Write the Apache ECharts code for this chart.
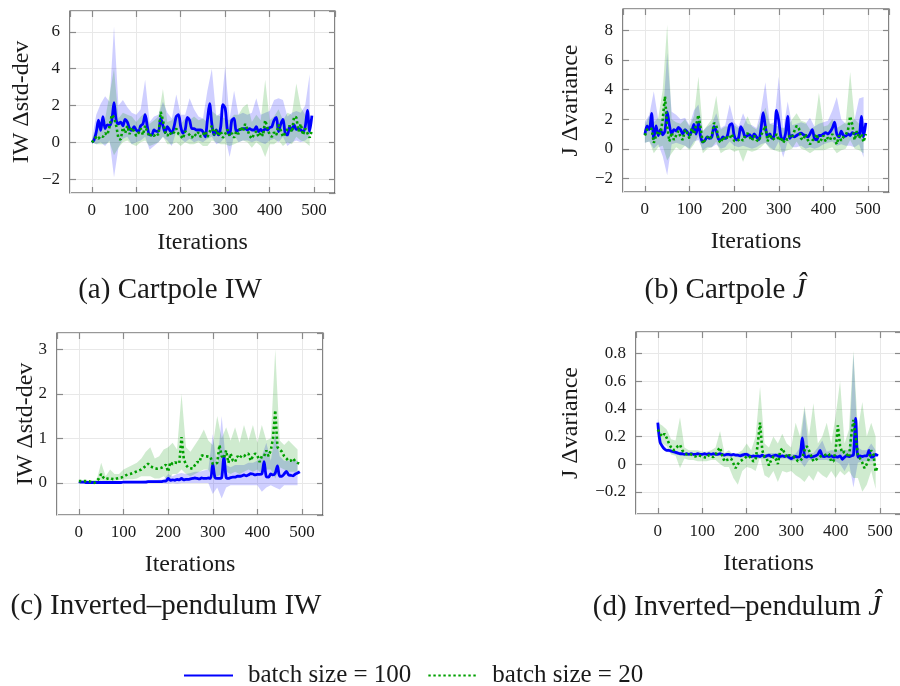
<!DOCTYPE html>
<html>
<head>
<meta charset="utf-8">
<script src="https://cdn.jsdelivr.net/npm/echarts@6/dist/echarts.min.js"></script>
<style>
  html, body { margin: 0; padding: 0; background: #fff; }
  #chart { width: 900px; height: 686px; }
</style>
</head>
<body>
<div id="chart"></div>
<script>
// iterations: means every 5, bands every 10
const iterMean = [];
for (let i = 0; i < 500; i += 5) iterMean.push(i);
const iterBand = [];
for (let i = 0; i < 500; i += 10) iterBand.push(i);

// (a) Cartpole IW
const cpIwBlue = [0.0,0.12,0.55,1.2,0.65,1.4,0.75,0.95,0.9,1.2,
  2.15,1.2,1.0,1.1,0.9,1.25,1.1,0.75,0.65,0.85,
  0.67,0.58,0.9,1.0,1.5,0.85,0.4,0.4,0.67,0.6,
  0.6,1.3,0.9,0.53,0.85,0.67,0.5,0.85,1.4,1.5,
  0.85,0.5,0.67,1.35,1.2,0.75,0.75,0.67,0.67,0.67,
  0.58,0.3,1.2,2.1,1.0,0.4,0.67,0.4,0.85,2.05,
  1.85,0.67,0.4,1.2,1.3,0.58,0.67,0.7,0.75,0.75,
  0.67,0.75,0.67,0.67,0.85,0.58,0.7,0.58,0.75,0.67,
  0.8,0.85,1.2,1.35,0.58,1.0,1.25,0.5,0.4,0.85,
  0.67,0.95,0.7,0.75,0.67,0.58,0.85,1.73,0.6,1.45];
const cpIwGreen = [0.0,0.1,0.3,0.2,0.35,0.3,0.5,0.4,0.85,1.5,
  1.35,0.9,0.2,0.15,0.8,0.5,0.9,0.45,0.8,0.6,
  0.35,0.5,0.75,0.4,0.9,0.55,0.3,0.45,0.35,0.5,
  0.4,1.65,1.2,0.55,0.35,0.55,0.4,0.55,0.75,0.45,
  0.35,0.2,0.6,0.5,0.4,0.25,0.45,0.35,0.55,0.3,
  0.4,0.6,0.3,0.55,0.9,0.4,0.7,0.35,0.6,0.25,
  0.45,0.7,0.35,0.5,0.25,0.6,0.45,0.85,0.6,1.0,
  0.7,0.35,0.2,0.45,0.6,0.3,0.55,0.35,1.2,0.8,
  0.4,0.3,0.55,0.4,0.95,0.65,0.3,0.5,0.7,0.9,
  0.55,1.4,1.35,0.6,1.0,0.4,0.75,0.5,0.25,0.65];
const cpIwBlueLo = [0.0,-0.1,0.0,-0.2,0.1,-1.9,-0.3,0.2,0.3,-0.1,
  0.0,0.1,0.3,-0.4,-0.2,0.0,0.3,0.1,-0.2,0.6,
  0.2,0.0,0.2,0.0,0.1,0.0,0.2,0.3,-0.1,0.0,
  0.3,-0.8,0.4,0.0,0.1,0.1,0.0,0.1,0.0,-0.1,
  0.1,0.2,0.0,0.3,-0.2,0.0,0.1,0.0,0.1,0.3];
const cpIwBlueHi = [0.1,1.5,2.1,2.5,2.2,6.3,2.0,2.3,1.9,1.6,
  1.5,1.8,3.4,1.1,1.4,1.5,2.2,1.6,1.3,2.6,
  1.5,1.5,2.4,1.8,1.4,1.3,2.8,4.0,1.4,1.6,
  4.15,1.3,2.8,1.5,1.6,1.5,1.6,2.4,1.5,1.6,
  1.7,2.3,2.4,2.3,1.4,1.6,1.7,1.6,2.0,3.7];
const cpIwGreenLo = [0.0,-0.1,-0.1,-0.1,0.0,-0.7,-0.3,0.0,0.1,-0.1,
  -0.2,0.0,0.1,-0.2,-0.1,0.0,0.3,-0.1,-0.1,0.0,
  -0.2,0.0,-0.1,-0.1,0.0,-0.2,-0.2,0.1,0.0,-0.1,
  -0.1,-0.2,-0.1,0.0,0.1,0.0,-0.3,0.0,-0.2,-0.8,
  -0.1,-0.1,0.1,-0.2,0.0,-0.1,0.3,0.1,0.0,-0.2];
const cpIwGreenHi = [0.1,0.8,1.0,1.3,2.6,4.0,1.3,1.6,1.5,1.4,
  1.1,1.4,1.6,1.0,1.2,1.4,2.9,1.1,1.2,1.5,
  1.0,1.3,1.2,1.4,1.2,1.3,1.1,1.7,1.5,1.4,
  1.3,1.2,1.5,1.5,1.9,2.1,1.1,1.5,1.2,3.4,
  1.2,1.4,1.8,1.2,1.6,1.5,3.2,1.9,1.5,1.2];

// (b) Cartpole J
const cpJBlue = [0.95,1.55,1.3,2.4,0.7,1.55,0.9,1.3,0.95,1.2,
  2.5,1.6,1.0,1.3,1.2,1.45,1.3,1.0,1.3,1.15,
  0.9,1.2,1.65,1.0,1.8,0.8,0.45,0.6,0.8,0.7,
  0.8,1.5,1.2,0.65,0.6,0.8,0.7,0.9,1.6,1.7,
  0.9,0.6,0.75,1.5,1.2,0.8,0.9,0.95,0.7,1.0,
  0.8,0.6,1.3,2.45,1.5,0.8,1.0,0.7,0.9,2.6,
  1.9,0.8,0.6,1.0,2.2,0.7,0.9,0.8,0.9,1.0,
  1.05,0.95,0.9,0.8,1.0,1.3,0.7,0.6,0.9,0.9,
  1.0,1.1,1.0,1.15,1.4,1.8,1.0,0.8,1.2,0.9,
  0.85,1.0,0.9,1.1,1.0,1.1,0.9,2.2,0.8,1.75];
const cpJGreen = [0.9,1.3,1.4,1.35,0.4,0.9,1.2,1.0,2.0,3.55,
  1.5,0.5,1.1,0.6,0.9,1.2,0.8,0.6,1.3,1.05,
  0.7,1.4,1.0,1.6,2.3,1.4,0.35,0.6,0.8,0.65,
  0.9,1.75,1.6,0.6,0.4,0.8,0.6,0.8,0.7,1.0,
  0.55,0.5,0.6,0.7,0.55,0.9,1.05,0.8,0.55,0.9,
  0.6,0.5,0.9,1.2,1.55,0.5,1.0,0.6,0.7,1.0,
  0.55,0.8,0.4,0.7,0.6,0.9,0.8,1.2,1.55,1.4,
  0.7,0.6,1.0,0.6,0.3,0.55,0.7,1.0,0.4,0.6,
  0.9,0.5,0.75,0.6,1.0,0.7,0.3,0.9,0.55,0.8,
  0.95,1.25,2.2,1.6,0.6,1.2,0.7,1.0,0.45,1.0];
const cpJBlueLo = [0.4,0.5,0.0,0.3,-0.5,-1.8,0.3,0.4,0.3,0.2,
  0.0,0.5,0.6,-0.1,0.1,0.1,0.3,0.0,0.1,0.5,
  0.2,0.1,0.2,0.1,0.0,0.1,0.3,0.4,0.1,-0.1,
  0.5,-0.6,0.5,0.1,0.1,0.2,0.0,0.1,0.0,0.1,
  0.3,0.4,0.5,0.2,0.3,0.2,0.2,0.1,0.3,-0.6];
const cpJBlueHi = [1.8,2.3,3.9,2.0,2.0,6.5,2.5,2.3,2.0,2.1,
  1.6,2.6,3.0,1.2,1.5,1.7,2.4,1.4,1.6,3.0,
  1.8,1.5,2.4,1.7,1.6,1.4,2.6,4.5,1.7,1.8,
  4.9,1.3,3.2,1.6,1.7,1.8,1.7,2.1,1.5,1.7,
  1.8,1.9,2.6,3.5,2.0,1.7,1.8,2.0,3.4,3.5];
const cpJGreenLo = [0.4,0.5,-0.3,0.1,0.2,-0.8,-0.3,0.1,-0.1,0.2,
  -0.1,0.3,0.9,-0.3,0.0,0.1,0.5,-0.3,-0.1,0.0,
  -0.2,-0.1,-0.9,-0.1,-0.2,-0.1,0.1,0.4,0.0,-0.1,
  -0.2,-0.2,-0.1,0.0,0.5,0.0,-0.1,-0.3,-0.1,-0.1,
  -0.1,0.0,0.1,-0.3,-0.1,0.0,0.6,0.0,-0.1,-0.3];
const cpJGreenHi = [1.6,2.2,1.8,2.1,4.0,8.4,2.0,1.8,1.7,2.0,
  1.5,2.2,4.9,1.2,1.6,2.0,3.6,1.3,1.5,1.5,
  1.6,1.4,1.5,2.2,1.5,1.3,2.0,2.8,1.7,1.6,
  1.5,1.4,1.5,2.0,2.4,1.9,1.8,1.3,1.5,3.8,
  1.5,1.6,2.0,1.4,1.6,1.8,5.2,2.0,1.7,1.5];

// (c) Inverted-pendulum IW
const ipIwBlue = [0.03,0.02,0.02,0.01,0.01,0.01,0.01,0.01,0.01,0.01,
  0.01,0.01,0.01,0.01,0.01,0.01,0.01,0.01,0.01,0.01,
  0.02,0.02,0.02,0.02,0.02,0.02,0.02,0.02,0.02,0.02,
  0.02,0.03,0.03,0.03,0.03,0.03,0.03,0.03,0.04,0.04,
  0.1,0.06,0.07,0.06,0.08,0.07,0.1,0.07,0.08,0.08,
  0.09,0.1,0.11,0.1,0.09,0.11,0.1,0.1,0.11,0.1,
  0.42,0.12,0.1,0.1,0.12,0.6,0.12,0.1,0.12,0.13,
  0.13,0.15,0.15,0.16,0.18,0.16,0.18,0.21,0.2,0.18,
  0.19,0.19,0.2,0.48,0.14,0.13,0.2,0.18,0.22,0.38,
  0.15,0.15,0.2,0.26,0.18,0.17,0.16,0.2,0.22,0.25];
const ipIwGreen = [0.04,0.04,0.04,0.04,0.04,0.03,0.01,0.0,0.05,0.1,
  0.2,0.12,0.08,0.1,0.11,0.09,0.08,0.1,0.11,0.12,
  0.14,0.17,0.19,0.2,0.22,0.24,0.26,0.28,0.3,0.34,
  0.38,0.43,0.38,0.35,0.33,0.32,0.33,0.34,0.37,0.41,
  0.25,0.47,0.42,0.46,0.45,0.44,1.03,0.55,0.4,0.34,
  0.33,0.32,0.4,0.47,0.46,0.62,0.6,0.6,0.59,0.58,
  0.43,0.42,0.45,0.85,0.6,0.55,0.73,0.45,0.66,0.5,
  0.47,0.6,0.55,0.62,0.6,0.64,0.66,0.5,0.6,0.66,
  0.62,0.47,0.6,0.6,0.73,0.6,0.73,1.0,1.63,0.8,
  0.75,0.7,0.6,0.55,0.49,0.5,0.55,0.48,0.45,0.43];
const ipIwBlueLo = [0.0,0.0,0.0,0.0,0.0,0.0,0.0,0.0,0.0,0.0,
  0.0,0.0,0.0,0.0,0.0,0.0,0.0,0.0,0.0,0.0,
  -0.02,0.0,-0.02,0.0,0.0,0.0,0.0,0.0,0.0,0.0,
  -0.25,-0.1,-0.35,-0.1,-0.05,-0.05,-0.05,-0.05,-0.05,-0.05,
  -0.05,-0.2,-0.1,-0.05,-0.1,-0.15,-0.05,-0.05,-0.05,-0.05];
const ipIwBlueHi = [0.05,0.05,0.04,0.04,0.04,0.04,0.04,0.04,0.04,0.04,
  0.05,0.05,0.05,0.05,0.05,0.06,0.06,0.06,0.07,0.07,
  0.2,0.15,0.2,0.22,0.2,0.22,0.25,0.25,0.28,0.3,
  1.1,0.35,1.5,0.4,0.35,0.4,0.4,0.4,0.45,0.45,
  0.5,0.6,0.9,0.5,1.1,0.6,0.5,0.5,0.5,0.5];
const ipIwGreenLo = [0.0,0.0,0.0,0.0,0.0,0.05,0.04,0.04,0.05,0.06,
  0.07,0.08,0.08,0.1,0.15,0.15,0.15,0.1,0.1,0.15,
  0.05,0.2,0.2,0.3,0.2,0.15,0.2,0.25,0.3,0.3,
  0.1,0.15,0.2,0.25,0.2,0.25,0.2,0.25,0.3,0.25,
  0.3,0.2,0.3,0.3,0.1,0.35,0.3,0.25,0.25,0.25];
const ipIwGreenHi = [0.05,0.06,0.06,0.06,0.07,0.45,0.15,0.3,0.2,0.2,
  0.3,0.35,0.4,0.45,0.55,0.7,0.8,0.55,0.6,0.75,
  0.8,0.9,0.75,2.0,0.8,0.7,0.85,1.0,1.2,0.95,
  0.85,1.5,1.0,1.25,0.95,1.25,0.9,1.3,0.95,1.3,
  0.9,1.3,0.95,1.0,3.0,0.95,0.85,0.95,0.85,0.75];

// (d) Inverted-pendulum J
const ipJBlue = [0.3,0.16,0.13,0.11,0.1,0.1,0.095,0.09,0.085,0.08,
  0.075,0.075,0.07,0.075,0.07,0.075,0.07,0.07,0.075,0.07,
  0.07,0.075,0.07,0.075,0.07,0.075,0.07,0.07,0.075,0.07,
  0.065,0.07,0.07,0.065,0.07,0.065,0.065,0.06,0.065,0.07,
  0.07,0.06,0.055,0.06,0.055,0.06,0.055,0.065,0.055,0.06,
  0.065,0.055,0.06,0.065,0.06,0.055,0.06,0.055,0.06,0.05,
  0.04,0.05,0.055,0.05,0.06,0.19,0.06,0.05,0.06,0.05,
  0.055,0.06,0.07,0.1,0.06,0.055,0.06,0.055,0.06,0.05,
  0.055,0.05,0.06,0.035,0.05,0.06,0.055,0.06,0.065,0.33,
  0.05,0.06,0.055,0.06,0.06,0.1,0.05,0.055,0.07,0.06];
const ipJGreen = [0.25,0.22,0.2,0.22,0.19,0.15,0.12,0.1,0.11,0.13,
  0.14,0.1,0.08,0.07,0.075,0.07,0.06,0.055,0.065,0.06,
  0.055,0.05,0.045,0.065,0.06,0.05,0.07,0.1,0.12,0.06,
  0.02,0.03,0.035,0.04,0.005,-0.03,0.0,0.02,0.03,0.04,
  0.055,0.06,0.04,0.02,0.03,0.15,0.3,0.1,0.05,0.04,
  -0.01,0.03,0.055,0.04,0.0,0.09,0.115,0.08,0.05,0.065,
  0.06,0.055,0.045,0.02,0.025,0.04,0.1,0.13,0.1,0.06,
  0.02,0.03,0.04,0.055,0.06,0.065,0.07,0.075,0.02,0.02,
  0.1,0.28,0.13,0.08,0.09,0.07,0.05,0.2,0.32,0.2,
  0.07,0.04,0.01,-0.03,0.0,0.04,0.1,0.07,-0.055,-0.01];
const ipJBlueLo = [0.27,0.11,0.09,0.08,0.07,0.065,0.06,0.06,0.06,0.06,
  0.06,0.06,0.06,0.06,0.06,0.055,0.055,0.055,0.05,0.05,
  0.05,0.04,0.04,0.04,0.04,0.04,0.04,0.04,0.04,0.04,
  0.02,0.03,0.02,-0.02,0.03,0.03,0.03,0.03,0.03,0.02,
  0.02,0.0,-0.05,0.01,-0.17,0.01,0.02,0.02,0.02,0.02];
const ipJBlueHi = [0.33,0.15,0.115,0.105,0.095,0.085,0.08,0.08,0.08,0.085,
  0.08,0.08,0.08,0.08,0.085,0.075,0.08,0.08,0.075,0.08,
  0.085,0.07,0.07,0.075,0.07,0.08,0.08,0.08,0.075,0.075,
  0.07,0.075,0.12,0.4,0.08,0.08,0.12,0.17,0.09,0.1,
  0.1,0.1,0.1,0.1,0.8,0.12,0.1,0.1,0.15,0.1];
const ipJGreenLo = [0.2,0.15,0.13,0.07,0.06,-0.03,0.04,0.03,0.03,0.02,
  0.02,0.02,0.03,0.03,0.0,-0.02,-0.02,-0.1,-0.15,-0.05,
  -0.02,-0.03,-0.05,0.05,-0.08,-0.1,-0.05,-0.13,-0.05,-0.06,
  -0.05,-0.08,-0.1,-0.13,-0.08,-0.12,-0.05,-0.08,-0.1,-0.05,
  -0.1,-0.05,-0.08,-0.05,-0.1,-0.1,-0.2,-0.15,-0.05,-0.18];
const ipJGreenHi = [0.3,0.28,0.25,0.18,0.17,0.34,0.12,0.1,0.1,0.1,
  0.09,0.09,0.1,0.12,0.24,0.08,0.1,0.07,0.08,0.1,
  0.15,0.1,0.2,0.56,0.15,0.12,0.2,0.15,0.22,0.15,
  0.12,0.3,0.2,0.42,0.2,0.44,0.15,0.2,0.3,0.15,
  0.35,0.6,0.15,0.25,0.82,0.25,0.45,0.2,0.3,0.2];

const seriesNames = ['batch size = 100', 'batch size = 20'];
const yNames = ['IW \u0394std-dev', 'J \u0394variance', 'IW \u0394std-dev', 'J \u0394variance'];
const captions = ['(a) Cartpole IW', '(b) Cartpole {j|\u0134}',
  '(c) Inverted\u2013pendulum IW', '(d) Inverted\u2013pendulum {j|\u0134}'];

const FONT = 'Liberation Serif';
const INK = '#1a1a1a';
const BLUE = '#0000ff';
const GREEN = '#00a000';

// layout of the four panels
const panels = [
  { blue: cpIwBlue, green: cpIwGreen, bLo: cpIwBlueLo, bHi: cpIwBlueHi, gLo: cpIwGreenLo, gHi: cpIwGreenHi,
    grid: { left: 70, top: 11, width: 265, height: 182 }, ymin: -2.75, ymax: 7.13, split: 5, nameGap: 36, cap: [170, 290] },
  { blue: cpJBlue, green: cpJGreen, bLo: cpJBlueLo, bHi: cpJBlueHi, gLo: cpJGreenLo, gHi: cpJGreenHi,
    grid: { left: 623, top: 9, width: 266, height: 183 }, ymin: -2.93, ymax: 9.47, split: 5, nameGap: 40, cap: [725, 290] },
  { blue: ipIwBlue, green: ipIwGreen, bLo: ipIwBlueLo, bHi: ipIwBlueHi, gLo: ipIwGreenLo, gHi: ipIwGreenHi,
    grid: { left: 57, top: 333, width: 266, height: 182 }, ymin: -0.72, ymax: 3.365, split: 5, nameGap: 19, cap: [166, 606] },
  { blue: ipJBlue, green: ipJGreen, bLo: ipJBlueLo, bHi: ipJBlueHi, gLo: ipJGreenLo, gHi: ipJGreenHi,
    grid: { left: 636, top: 332, width: 265, height: 182 }, ymin: -0.361, ymax: 0.956, split: 6, nameGap: 53, cap: [737, 607] }
];

function pairs(xs, ys) { return xs.map((x, i) => [x, ys[i]]); }
const minus = v => String(+v.toFixed(6)).replace('-', '\u2212');

const tick = { show: true, inside: true, length: 6, lineStyle: { color: '#8a8a8a', width: 1.2 } };
const split = { show: true, lineStyle: { color: '#e8e8e8', width: 1 } };
const noLine = { show: false, onZero: false };

// band between lower and upper bound, drawn as one polygon through the axes
function bandSeries(g, lo, hi, color) {
  return {
    type: 'custom', xAxisIndex: 2 * g, yAxisIndex: 2 * g, silent: true, z: 1,
    data: iterBand.map((x, i) => [x, lo[i], hi[i]]),
    encode: { x: 0, y: [1, 2] },
    renderItem: (params, api) => {
      if (params.dataIndexInside !== 0) return null;
      const n = params.dataInsideLength;
      const top = [], bot = [];
      for (let i = 0; i < n; i++) {
        top.push(api.coord([api.value(0, i), api.value(2, i)]));
        bot.push(api.coord([api.value(0, i), api.value(1, i)]));
      }
      return { type: 'polygon', shape: { points: top.concat(bot.reverse()) }, style: { fill: color } };
    }
  };
}

const grids = [], xAxes = [], yAxes = [], series = [];

panels.forEach((p, g) => {
  grids.push(Object.assign({ show: true, borderColor: '#333', borderWidth: 1.2, containLabel: false, outerBoundsMode: 'none' }, p.grid));

  xAxes.push({
    type: 'value', gridIndex: g, position: 'bottom', min: -49, max: 547,
    axisLine: noLine, axisTick: tick, splitLine: split,
    axisLabel: { fontFamily: FONT, fontSize: 17, color: INK, margin: 9, showMinLabel: false, showMaxLabel: false, formatter: minus },
    name: 'Iterations', nameLocation: 'middle', nameGap: 38, nameMoveOverlap: false,
    nameTextStyle: { fontFamily: FONT, fontSize: 24, color: INK }
  });
  xAxes.push({
    type: 'value', gridIndex: g, position: 'top', min: -49, max: 547,
    axisLine: noLine, axisTick: tick, splitLine: { show: false }, axisLabel: { show: false }
  });
  yAxes.push({
    type: 'value', gridIndex: g, position: 'left', min: p.ymin, max: p.ymax, splitNumber: p.split,
    axisLine: noLine, axisTick: tick, splitLine: split,
    axisLabel: { fontFamily: FONT, fontSize: 17, color: INK, margin: 10, showMinLabel: false, showMaxLabel: false, formatter: minus },
    name: yNames[g], nameLocation: 'middle', nameGap: p.nameGap, nameMoveOverlap: false,
    nameTextStyle: { fontFamily: FONT, fontSize: 24, color: INK }
  });
  yAxes.push({
    type: 'value', gridIndex: g, position: 'right', min: p.ymin, max: p.ymax, splitNumber: p.split,
    axisLine: noLine, axisTick: tick, splitLine: { show: false }, axisLabel: { show: false }
  });

  const ax = { xAxisIndex: 2 * g, yAxisIndex: 2 * g };
  series.push(bandSeries(g, p.bLo, p.bHi, 'rgba(0,0,255,0.19)'));
  series.push(bandSeries(g, p.gLo, p.gHi, 'rgba(0,150,0,0.19)'));
  series.push(Object.assign({ type: 'line', name: seriesNames[0], data: pairs(iterMean, p.blue),
    symbol: 'none', smooth: 0.3, lineStyle: { color: BLUE, width: 2.8 }, itemStyle: { color: BLUE }, z: 3 }, ax));
  series.push(Object.assign({ type: 'line', name: seriesNames[1], data: pairs(iterMean, p.green),
    symbol: 'none', lineStyle: { color: GREEN, width: 2.6, type: [2.4, 2.6] }, itemStyle: { color: GREEN }, z: 4 }, ax));
});

const chart = echarts.init(document.getElementById('chart'), null, { renderer: 'canvas' });
chart.setOption({
  animation: false,
  backgroundColor: '#fff',
  grid: grids,
  xAxis: xAxes,
  yAxis: yAxes,
  series: series,
  legend: {
    data: seriesNames, left: 183, top: 663, padding: 0, itemWidth: 49, itemHeight: 14, itemGap: 16,
    itemStyle: { opacity: 0 },
    textStyle: { fontFamily: FONT, fontSize: 25, color: INK, padding: [0, 0, 0, 10] }
  },
  graphic: captions.map((c, g) => ({
    type: 'text', x: panels[g].cap[0], y: panels[g].cap[1], silent: true,
    style: {
      text: c, fontFamily: FONT, fontSize: 29, fill: INK, align: 'center', verticalAlign: 'middle',
      rich: { j: { fontFamily: FONT, fontSize: 29, fontStyle: 'italic', fill: INK } }
    }
  }))
});
</script>
</body>
</html>
